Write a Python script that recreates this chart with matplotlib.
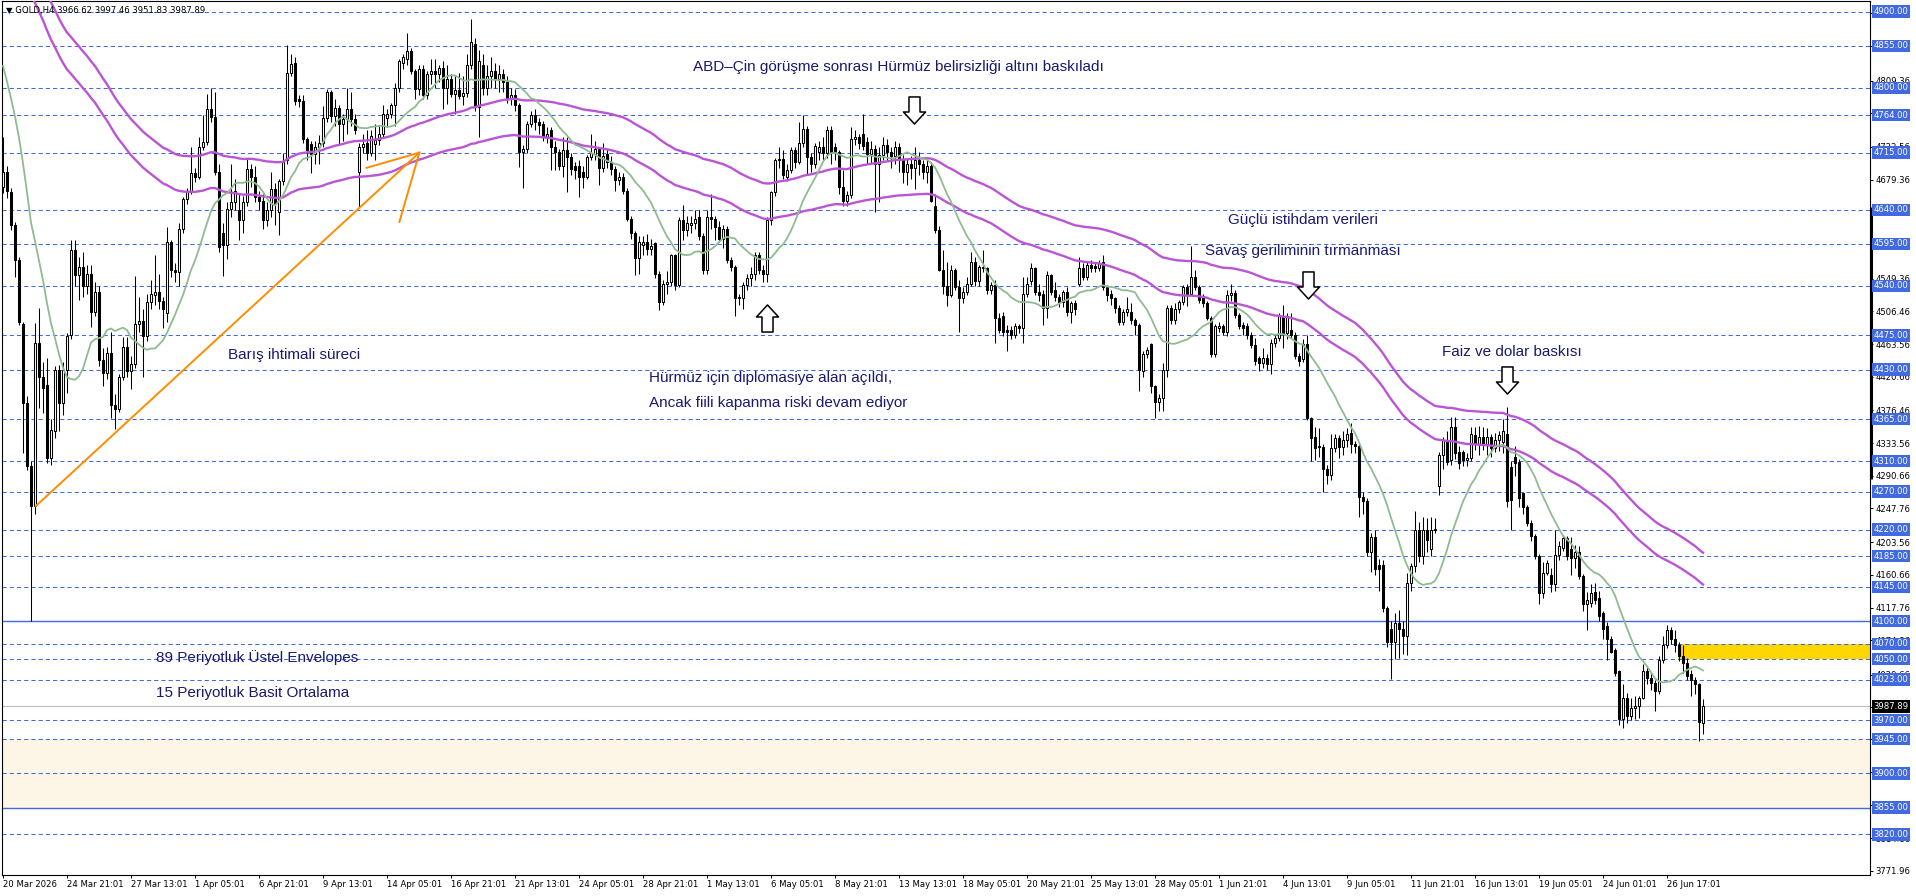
import numpy as np
import pandas as pd
import matplotlib
matplotlib.use("Agg")
import matplotlib.pyplot as plt
from matplotlib.path import Path
from matplotlib.transforms import blended_transform_factory

# ---------------- data (GOLD H4 candles) ----------------
opens = [
4670, 4689, 4663, 4620, 4574, 4490, 4386, 4303, 4251, 4465,
4421, 4410, 4314, 4349, 4429, 4386, 4429, 4476, 4587, 4554,
4565, 4540, 4556, 4506, 4532, 4443, 4425, 4452, 4384, 4378,
4421, 4460, 4428, 4437, 4490, 4494, 4474, 4519, 4528, 4532,
4520, 4505, 4598, 4561, 4558, 4615, 4654, 4665, 4688, 4683,
4722, 4729, 4772, 4762, 4690, 4610, 4594, 4641, 4650, 4640,
4626, 4650, 4694, 4683, 4657, 4652, 4626, 4640, 4667, 4637,
4678, 4705, 4820, 4833, 4785, 4783, 4733, 4726, 4713, 4722,
4728, 4761, 4794, 4763, 4774, 4752, 4759, 4772, 4759, 4690,
4722, 4728, 4715, 4726, 4731, 4740, 4761, 4766, 4777, 4800,
4833, 4838, 4848, 4822, 4798, 4825, 4790, 4818, 4822, 4818,
4826, 4800, 4812, 4792, 4797, 4789, 4793, 4830, 4858, 4775,
4830, 4800, 4815, 4822, 4812, 4818, 4808, 4787, 4790, 4777,
4716, 4720, 4753, 4764, 4755, 4753, 4735, 4744, 4722, 4716,
4698, 4718, 4709, 4698, 4698, 4690, 4683, 4709, 4713, 4720,
4695, 4713, 4702, 4694, 4679, 4683, 4665, 4628, 4609, 4576,
4594, 4598, 4589, 4596, 4556, 4519, 4543, 4545, 4580, 4541,
4626, 4613, 4620, 4622, 4630, 4606, 4561, 4630, 4628, 4617,
4602, 4615, 4574, 4565, 4526, 4524, 4541, 4550, 4556, 4580,
4561, 4556, 4626, 4663, 4705, 4707, 4683, 4692, 4718, 4703,
4727, 4746, 4709, 4700, 4716, 4722, 4714, 4744, 4722, 4716,
4670, 4652, 4659, 4733, 4735, 4740, 4729, 4713, 4720, 4700,
4712, 4725, 4716, 4710, 4722, 4705, 4690, 4700, 4695, 4705,
4700, 4690, 4698, 4645, 4613, 4561, 4540, 4528, 4561, 4539,
4524, 4532, 4543, 4572, 4546, 4565, 4563, 4535, 4541, 4498,
4500, 4482, 4482, 4476, 4487, 4485, 4530, 4546, 4563, 4532,
4530, 4511, 4554, 4535, 4526, 4519, 4532, 4506, 4517, 4543,
4563, 4552, 4567, 4566, 4564, 4572, 4539, 4530, 4524, 4511,
4493, 4506, 4506, 4495, 4489, 4428, 4450, 4464, 4408, 4387,
4393, 4430, 4511, 4495, 4509, 4519, 4539, 4530, 4552, 4539,
4526, 4517, 4498, 4450, 4485, 4487, 4480, 4528, 4531, 4502,
4489, 4487, 4476, 4463, 4445, 4439, 4445, 4437, 4465, 4472,
4500, 4478, 4482, 4476, 4448, 4444, 4464, 4366, 4342, 4330,
4328, 4300, 4292, 4327, 4340, 4329, 4338, 4347, 4333, 4330,
4263, 4257, 4190, 4210, 4174, 4174, 4117, 4090, 4072, 4098,
4090, 4080, 4150, 4172, 4220, 4185, 4220, 4195, 4220, 4277,
4318, 4338, 4311, 4355, 4322, 4322, 4311, 4314, 4344, 4333,
4342, 4333, 4342, 4327, 4338, 4335, 4346, 4302, 4316, 4309,
4268, 4250, 4229, 4211, 4185, 4137, 4163, 4160, 4148, 4187,
4196, 4209, 4195, 4183, 4190, 4159, 4122, 4124, 4138, 4130,
4110, 4093, 4077, 4062, 4034, 3971, 3999, 3975, 3986, 3988,
3999, 4034, 4025, 4019, 4008, 4049, 4069, 4088, 4077, 4069,
4054, 4045, 4030, 4023, 4017, 3966.62]

highs = [
4735, 4697, 4668, 4624, 4578, 4493, 4395, 4310, 4491, 4511,
4440, 4445, 4365, 4435, 4436, 4440, 4478, 4600, 4600, 4578,
4585, 4568, 4567, 4545, 4540, 4458, 4460, 4480, 4398, 4424,
4473, 4473, 4448, 4553, 4525, 4510, 4530, 4548, 4580, 4556,
4525, 4617, 4600, 4570, 4622, 4657, 4668, 4722, 4695, 4735,
4764, 4792, 4800, 4795, 4700, 4622, 4650, 4700, 4680, 4660,
4658, 4708, 4700, 4698, 4665, 4660, 4650, 4690, 4675, 4680,
4715, 4856, 4845, 4840, 4790, 4790, 4735, 4730, 4730, 4738,
4776, 4798, 4797, 4785, 4778, 4765, 4800, 4795, 4765, 4728,
4740, 4745, 4745, 4753, 4750, 4777, 4772, 4780, 4806, 4838,
4845, 4872, 4852, 4825, 4830, 4830, 4822, 4838, 4838, 4830,
4835, 4830, 4818, 4815, 4820, 4815, 4845, 4891, 4865, 4850,
4845, 4830, 4840, 4833, 4830, 4825, 4815, 4800, 4798, 4780,
4725, 4756, 4770, 4772, 4760, 4757, 4748, 4748, 4730, 4720,
4735, 4735, 4715, 4702, 4705, 4697, 4712, 4740, 4730, 4722,
4728, 4720, 4710, 4698, 4690, 4688, 4668, 4632, 4612, 4605,
4605, 4608, 4602, 4598, 4560, 4548, 4560, 4582, 4582, 4630,
4646, 4632, 4632, 4640, 4640, 4610, 4640, 4660, 4632, 4625,
4620, 4618, 4578, 4568, 4530, 4545, 4556, 4565, 4585, 4585,
4568, 4630, 4665, 4708, 4722, 4718, 4700, 4722, 4722, 4755,
4764, 4750, 4715, 4728, 4730, 4735, 4750, 4750, 4728, 4718,
4692, 4665, 4748, 4745, 4740, 4766, 4735, 4730, 4725, 4722,
4735, 4733, 4722, 4730, 4728, 4712, 4708, 4710, 4722, 4716,
4705, 4708, 4702, 4660, 4618, 4587, 4572, 4567, 4563, 4548,
4538, 4552, 4585, 4578, 4567, 4587, 4565, 4545, 4548, 4505,
4506, 4489, 4487, 4491, 4490, 4552, 4552, 4570, 4565, 4543,
4535, 4559, 4556, 4545, 4530, 4535, 4538, 4520, 4522, 4578,
4570, 4572, 4574, 4570, 4574, 4580, 4541, 4535, 4526, 4515,
4510, 4526, 4517, 4498, 4491, 4455, 4460, 4465, 4410, 4398,
4439, 4515, 4515, 4517, 4522, 4541, 4543, 4593, 4561, 4541,
4530, 4520, 4500, 4490, 4492, 4490, 4535, 4542, 4535, 4505,
4492, 4491, 4480, 4472, 4448, 4458, 4450, 4470, 4476, 4505,
4515, 4505, 4505, 4480, 4452, 4470, 4475, 4368, 4355, 4353,
4332, 4305, 4345, 4345, 4344, 4350, 4353, 4360, 4336, 4333,
4270, 4262, 4215, 4220, 4182, 4180, 4120, 4100, 4111, 4115,
4100, 4163, 4176, 4245, 4230, 4237, 4235, 4236, 4235, 4322,
4342, 4350, 4368, 4368, 4330, 4325, 4320, 4355, 4355, 4356,
4355, 4353, 4345, 4347, 4350, 4365, 4381, 4310, 4330, 4313,
4270, 4252, 4232, 4214, 4188, 4178, 4180, 4170, 4220, 4205,
4213, 4212, 4210, 4200, 4199, 4162, 4138, 4148, 4150, 4140,
4113, 4099, 4080, 4064, 4036, 4017, 4005, 3999, 4001, 4001,
4043, 4040, 4032, 4023, 4054, 4080, 4095, 4092, 4088, 4073,
4069, 4051, 4036, 4026, 4019, 3997.46]

lows = [
4662, 4655, 4613, 4552, 4488, 4321, 4298, 4100, 4240, 4380,
4373, 4308, 4305, 4340, 4350, 4370, 4400, 4470, 4540, 4521,
4526, 4530, 4486, 4500, 4435, 4408, 4418, 4366, 4352, 4375,
4416, 4420, 4404, 4432, 4480, 4420, 4468, 4510, 4515, 4510,
4485, 4492, 4552, 4545, 4540, 4610, 4648, 4660, 4676, 4680,
4718, 4725, 4755, 4685, 4585, 4553, 4575, 4630, 4640, 4600,
4610, 4645, 4670, 4650, 4640, 4615, 4618, 4630, 4620, 4607,
4672, 4700, 4815, 4778, 4775, 4728, 4705, 4688, 4700, 4700,
4722, 4755, 4755, 4750, 4725, 4730, 4740, 4750, 4740, 4643,
4715, 4705, 4710, 4705, 4725, 4735, 4750, 4760, 4750, 4795,
4825, 4830, 4818, 4785, 4790, 4785, 4785, 4805, 4800, 4808,
4772, 4779, 4788, 4766, 4785, 4778, 4788, 4825, 4770, 4735,
4790, 4790, 4800, 4800, 4795, 4795, 4780, 4778, 4770, 4696,
4668, 4715, 4748, 4745, 4740, 4730, 4728, 4692, 4692, 4692,
4683, 4663, 4685, 4680, 4657, 4668, 4680, 4705, 4705, 4672,
4690, 4695, 4685, 4665, 4672, 4660, 4625, 4602, 4554, 4556,
4580, 4580, 4580, 4550, 4508, 4515, 4530, 4540, 4535, 4538,
4600, 4605, 4610, 4615, 4600, 4556, 4556, 4615, 4600, 4598,
4590, 4570, 4560, 4500, 4515, 4510, 4535, 4540, 4548, 4555,
4545, 4545, 4620, 4658, 4695, 4680, 4678, 4688, 4695, 4700,
4722, 4685, 4690, 4695, 4705, 4705, 4708, 4700, 4705, 4660,
4645, 4645, 4655, 4725, 4720, 4718, 4700, 4700, 4637, 4650,
4705, 4705, 4695, 4700, 4690, 4675, 4672, 4680, 4667, 4685,
4680, 4675, 4650, 4610, 4559, 4530, 4513, 4525, 4535, 4480,
4518, 4528, 4540, 4540, 4540, 4558, 4530, 4530, 4465, 4478,
4474, 4454, 4470, 4472, 4478, 4465, 4526, 4541, 4528, 4520,
4489, 4498, 4528, 4520, 4512, 4512, 4500, 4491, 4502, 4540,
4548, 4548, 4558, 4558, 4560, 4535, 4520, 4515, 4505, 4489,
4488, 4500, 4490, 4476, 4402, 4420, 4445, 4400, 4367, 4376,
4376, 4421, 4490, 4490, 4505, 4515, 4513, 4528, 4535, 4518,
4512, 4495, 4446, 4446, 4480, 4475, 4474, 4520, 4498, 4483,
4475, 4470, 4458, 4436, 4428, 4432, 4430, 4424, 4460, 4468,
4458, 4470, 4472, 4444, 4435, 4440, 4364, 4310, 4312, 4315,
4270, 4280, 4285, 4322, 4314, 4318, 4328, 4321, 4320, 4237,
4240, 4185, 4165, 4161, 4140, 4112, 4066, 4024, 4050, 4052,
4057, 4055, 4140, 4165, 4177, 4175, 4190, 4185, 4215, 4266,
4300, 4305, 4305, 4313, 4300, 4304, 4303, 4310, 4325, 4318,
4325, 4318, 4315, 4322, 4323, 4320, 4250, 4220, 4290, 4250,
4240, 4225, 4205, 4182, 4122, 4130, 4160, 4138, 4140, 4180,
4192, 4180, 4160, 4170, 4155, 4113, 4088, 4118, 4122, 4100,
4077, 4049, 4058, 4028, 3964, 3960, 3966, 3970, 3971, 3973,
3998, 4018, 4010, 3982, 4004, 4045, 4065, 4070, 4060, 4047,
4032, 4023, 4001, 4004, 3943, 3951.83]

closes = [
4690, 4665, 4620, 4574, 4493, 4386, 4303, 4251, 4465, 4421,
4406, 4314, 4351, 4429, 4386, 4429, 4474, 4587, 4554, 4565,
4540, 4556, 4506, 4532, 4443, 4425, 4452, 4384, 4378, 4421,
4460, 4428, 4437, 4490, 4494, 4474, 4519, 4530, 4532, 4520,
4510, 4598, 4561, 4558, 4615, 4654, 4665, 4688, 4683, 4722,
4729, 4772, 4762, 4690, 4591, 4594, 4641, 4650, 4665, 4626,
4650, 4694, 4683, 4657, 4652, 4626, 4640, 4667, 4648, 4678,
4702, 4820, 4831, 4783, 4783, 4733, 4718, 4713, 4722, 4728,
4761, 4794, 4763, 4774, 4752, 4759, 4772, 4759, 4745, 4722,
4726, 4715, 4737, 4731, 4740, 4766, 4766, 4777, 4800, 4835,
4840, 4848, 4822, 4798, 4825, 4790, 4818, 4822, 4818, 4826,
4800, 4812, 4792, 4797, 4789, 4793, 4830, 4860, 4775, 4835,
4800, 4815, 4822, 4812, 4818, 4808, 4787, 4790, 4777, 4716,
4720, 4753, 4764, 4755, 4751, 4735, 4740, 4722, 4716, 4698,
4718, 4709, 4694, 4692, 4683, 4683, 4709, 4715, 4720, 4695,
4710, 4702, 4694, 4679, 4683, 4665, 4628, 4609, 4576, 4598,
4598, 4589, 4592, 4556, 4519, 4543, 4545, 4580, 4541, 4626,
4613, 4622, 4622, 4628, 4606, 4561, 4630, 4628, 4617, 4602,
4615, 4574, 4565, 4524, 4524, 4541, 4550, 4556, 4580, 4561,
4556, 4626, 4663, 4705, 4707, 4685, 4692, 4718, 4703, 4727,
4746, 4709, 4700, 4724, 4722, 4714, 4744, 4716, 4716, 4670,
4652, 4659, 4733, 4735, 4728, 4724, 4713, 4720, 4700, 4712,
4725, 4716, 4710, 4722, 4705, 4690, 4700, 4695, 4705, 4700,
4690, 4698, 4652, 4613, 4561, 4540, 4528, 4561, 4539, 4524,
4532, 4543, 4572, 4546, 4565, 4563, 4535, 4541, 4498, 4482,
4480, 4480, 4476, 4487, 4485, 4530, 4543, 4563, 4532, 4528,
4511, 4554, 4532, 4526, 4519, 4532, 4506, 4517, 4509, 4563,
4552, 4567, 4563, 4564, 4570, 4539, 4528, 4524, 4511, 4493,
4506, 4509, 4495, 4489, 4430, 4450, 4456, 4408, 4387, 4393,
4430, 4511, 4495, 4509, 4519, 4539, 4530, 4552, 4539, 4521,
4517, 4498, 4450, 4487, 4487, 4480, 4528, 4531, 4502, 4487,
4485, 4476, 4463, 4441, 4439, 4445, 4437, 4465, 4472, 4500,
4478, 4500, 4476, 4448, 4441, 4464, 4366, 4340, 4327, 4328,
4300, 4292, 4327, 4340, 4329, 4338, 4346, 4333, 4330, 4263,
4257, 4190, 4210, 4168, 4168, 4117, 4072, 4072, 4098, 4090,
4080, 4150, 4172, 4220, 4185, 4220, 4207, 4220, 4221, 4318,
4338, 4309, 4355, 4320, 4307, 4311, 4314, 4346, 4333, 4342,
4333, 4342, 4327, 4338, 4344, 4349, 4257, 4259, 4307, 4261,
4250, 4229, 4211, 4185, 4137, 4163, 4176, 4148, 4187, 4198,
4209, 4185, 4183, 4190, 4159, 4122, 4128, 4137, 4128, 4107,
4090, 4077, 4060, 4032, 3971, 3999, 3975, 3986, 3988, 3999,
4034, 4025, 4019, 4008, 4049, 4069, 4088, 4077, 4069, 4054,
4045, 4028, 4023, 4017, 3967, 3987.89]

# closes of the bars just before the visible window (for the 15-period SMA)
warmup_closes = [4970, 4950, 4935, 4910, 4890, 4870, 4850, 4830, 4805,
                 4790, 4770, 4745, 4725, 4700]
ema_seed = 5037.0          # 89-EMA value just before the first visible bar
envelope_dev = 0.005       # envelope deviation (0.5 %)

time_labels = ["20 Mar 2026", "24 Mar 21:01", "27 Mar 13:01", "1 Apr 05:01",
               "6 Apr 21:01", "9 Apr 13:01", "14 Apr 05:01", "16 Apr 21:01",
               "21 Apr 13:01", "24 Apr 05:01", "28 Apr 21:01", "1 May 13:01",
               "6 May 05:01", "8 May 21:01", "13 May 13:01", "18 May 05:01",
               "20 May 21:01", "25 May 13:01", "28 May 05:01", "1 Jun 21:01",
               "4 Jun 13:01", "9 Jun 05:01", "11 Jun 21:01", "16 Jun 13:01",
               "19 Jun 05:01", "24 Jun 01:01", "26 Jun 17:01"]
label_every = 16

dashed_levels = [4900, 4855, 4800, 4764, 4715, 4640, 4595, 4540, 4475, 4430,
                 4365, 4310, 4270, 4220, 4185, 4145, 4070, 4050, 4023, 3970,
                 3945, 3900, 3820]
solid_levels = [4100, 3855]
scale_ticks = [4898.16, 4855.26, 4809.36, 4766.46, 4722.56, 4679.36, 4636.46,
               4593.56, 4549.36, 4506.46, 4463.56, 4420.66, 4376.46, 4333.56,
               4290.66, 4247.76, 4203.56, 4160.66, 4117.76, 4074.86, 4029.66,
               3987.76, 3944.86, 3901.96, 3858.06, 3814.86, 3771.96]
zone_beige = (3855, 3945)
zone_yellow = (4050, 4070)

# ---------------- figure ----------------
plt.rcParams['lines.scale_dashes'] = False
plt.rcParams['font.family'] = ['DejaVu Sans']

W, H = 1916, 896
fig = plt.figure(figsize=(W / 100, H / 100), dpi=100)
ax = fig.add_axes([2 / W, 21 / H, 1868 / W, 874 / H])
XMAX = 466.75
ax.set_xlim(-0.25, XMAX)
ax.set_ylim(3766.6, 4914.0)

o = np.array(opens, float)
h = np.array(highs, float)
l = np.array(lows, float)
c = np.array(closes, float)
h = np.maximum(h, np.maximum(o, c))
l = np.minimum(l, np.minimum(o, c))
n = len(c)
x = np.arange(n)

# zones
ax.axhspan(zone_beige[0], zone_beige[1], color='#FDF5E6', lw=0, zorder=0)
ax.fill_between([418.75, XMAX], zone_yellow[0], zone_yellow[1],
                color='#FFD700', lw=0, zorder=1)

# horizontal levels
blue = '#4169E1'
for lv in dashed_levels:
    ax.axhline(lv, color=blue, lw=0.75, ls=(0, (3.0, 2.2)), zorder=2)
for lv in solid_levels:
    ax.axhline(lv, color=blue, lw=1.0, zorder=2)
ax.axhline(c[-1], color='#C0C0C0', lw=0.9, zorder=2)

# candles
ax.vlines(x, l, h, color='black', lw=0.75, zorder=3)
up = c >= o
bot = np.minimum(o, c)
hgt = np.abs(c - o)
ax.bar(x[up], hgt[up], bottom=bot[up], width=0.5, color='white',
       edgecolor='black', linewidth=0.75, zorder=4)
ax.bar(x[~up], hgt[~up], bottom=bot[~up], width=0.5, color='black',
       edgecolor='black', linewidth=0.75, zorder=4)

# indicators
ser = pd.Series(np.r_[warmup_closes, c])
sma = ser.rolling(15).mean().to_numpy()[len(warmup_closes):]
ema = pd.Series(np.r_[ema_seed, c]).ewm(alpha=2 / 90, adjust=False).mean().to_numpy()[1:]
ax.plot(x, ema * (1 + envelope_dev), color='#BA55D3', lw=1.7, zorder=5)
ax.plot(x, ema * (1 - envelope_dev), color='#BA55D3', lw=1.7, zorder=5)
ax.plot(x, sma, color='#8FBC8F', lw=1.3, zorder=5)

# orange trend line + arrow strokes
orange = '#FF8C00'
ax.plot([8.0, 104.1], [4250, 4715], color=orange, lw=1.4, zorder=6,
        solid_capstyle='butt')
ax.plot([90.9, 104.1], [4695, 4715], color=orange, lw=1.4, zorder=6)
ax.plot([99.1, 104.1], [4624, 4715], color=orange, lw=1.4, zorder=6)

# hollow arrows
up_verts = [(-5.5, -13.5), (5.5, -13.5), (5.5, 1.5), (11, 1.5), (0, 13.5),
            (-11, 1.5), (-5.5, 1.5), (-5.5, -13.5)]
up_path = Path(up_verts, closed=True)
down_path = Path([(vx, -vy) for vx, vy in up_verts], closed=True)
for (ax_x, ax_y, pth) in [(227.75, 4771, down_path), (191.0, 4498, up_path),
                          (326.25, 4541, down_path), (376.0, 4416, down_path)]:
    ax.plot([ax_x], [ax_y], marker=pth, markersize=19.5, mfc='white',
            mec='black', mew=1.1, ls='none', zorder=8)

# annotations
tc = '#191970'
af = ['Liberation Sans', 'DejaVu Sans']
fs = 11
ax.text(223.75, 4827.4, "ABD–Çin görüşme sonrası Hürmüz belirsizliği altını baskıladı",
        ha='center', va='center', fontsize=fs, color=tc, family=af, zorder=9)
ax.text(306.2, 4626.4, "Güçlü istihdam verileri", ha='left', va='center',
        fontsize=fs, color=tc, family=af, zorder=9)
ax.text(300.5, 4585.8, "Savaş geriliminin tırmanması", ha='left', va='center',
        fontsize=fs, color=tc, family=af, zorder=9)
ax.text(359.7, 4453.6, "Faiz ve dolar baskısı", ha='left', va='center',
        fontsize=fs, color=tc, family=af, zorder=9)
ax.text(161.5, 4419.0, "Hürmüz için diplomasiye alan açıldı,", ha='left', va='center',
        fontsize=fs, color=tc, family=af, zorder=9)
ax.text(161.5, 4386.7, "Ancak fiili kapanma riski devam ediyor", ha='left', va='center',
        fontsize=fs, color=tc, family=af, zorder=9)
ax.text(56.3, 4449.3, "Barış ihtimali süreci", ha='left', va='center',
        fontsize=fs, color=tc, family=af, zorder=9)
ax.text(38.25, 4052.1, "89 Periyotluk Üstel Envelopes", ha='left', va='center',
        fontsize=fs, color=tc, family=af, zorder=9)
ax.text(38.25, 4005.5, "15 Periyotluk Basit Ortalama", ha='left', va='center',
        fontsize=fs, color=tc, family=af, zorder=9)

# axes styling
for sp in ax.spines.values():
    sp.set_color('black')
    sp.set_linewidth(0.8)
ax.set_xticks([k * label_every for k in range(len(time_labels))])
ax.set_xticklabels(time_labels, ha='left', fontsize=6.1)
ax.tick_params(axis='x', length=2.2, width=0.7, pad=1.6, direction='out')
ax.yaxis.tick_right()
ax.set_yticks(scale_ticks)
ax.set_yticklabels([f"{t:.2f}" for t in scale_ticks], fontsize=6.1)
ax.tick_params(axis='y', length=2.2, width=0.7, pad=2.0, direction='out')

# price labels on right scale
tr = blended_transform_factory(ax.transAxes, ax.transData)
xl = (1873.5 - 2) / 1868
for lv in sorted(dashed_levels + solid_levels):
    ax.text(xl, lv, f"{lv:.2f}", transform=tr, ha='left', va='center',
            fontsize=6.1, color='white', clip_on=False, zorder=20,
            bbox=dict(boxstyle='square,pad=0.2', fc=blue, ec='none'))
ax.text(xl, c[-1], f"{c[-1]:.2f}", transform=tr, ha='left', va='center',
        fontsize=6.1, color='white', clip_on=False, zorder=21,
        bbox=dict(boxstyle='square,pad=0.2', fc='black', ec='none'))
ax.plot([1.0008, 1.0008], [4287, 4644], transform=tr, color='black', lw=2.2,
        clip_on=False, solid_capstyle='butt', zorder=15)

# header
fig.text(6 / W, 1 - 11 / H,
         f"▼ GOLD,H4 {opens[-1]:.2f} {highs[-1]:.2f} {lows[-1]:.2f} {closes[-1]:.2f}",
         ha='left', va='center', fontsize=6.1, color='black')

fig.savefig("out.png", dpi=100)
